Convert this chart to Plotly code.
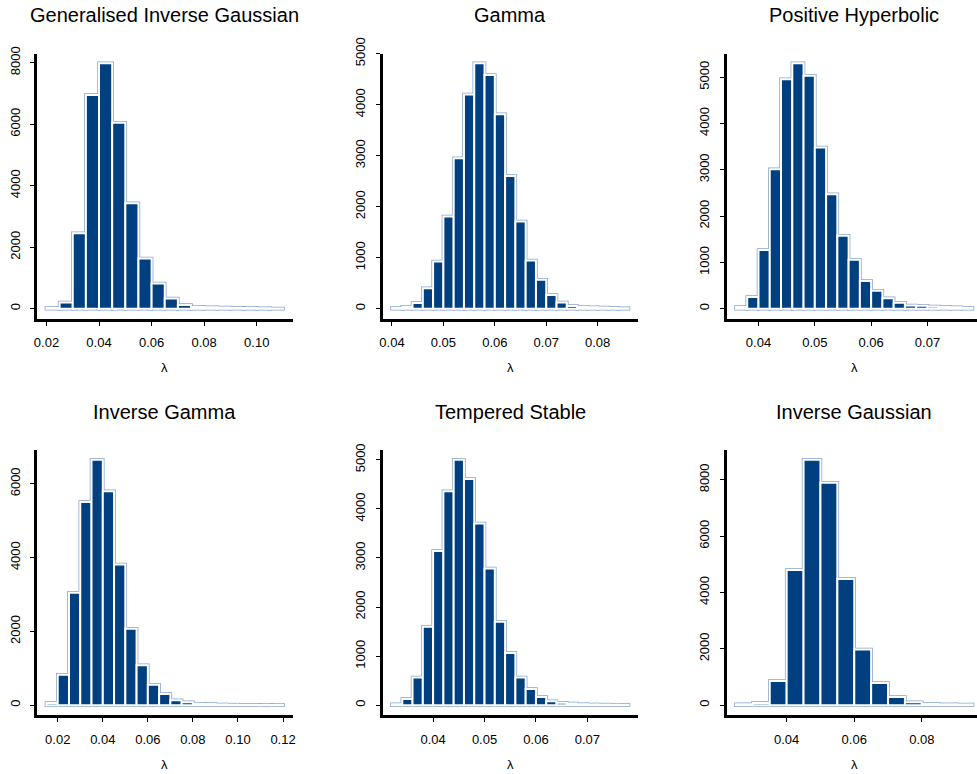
import plotly.graph_objects as go

# ---------------- data ----------------
titles = ["Generalised Inverse Gaussian", "Gamma", "Positive Hyperbolic",
          "Inverse Gamma", "Tempered Stable", "Inverse Gaussian"]

bin_start = [0.020, 0.040, 0.036, 0.015, 0.032, 0.025]
bin_width = [0.005, 0.002, 0.002, 0.005, 0.002, 0.005]

gig_counts = [20, 200, 2450, 6950, 7980, 6050, 3430, 1630, 820, 330, 120, 55,
              45, 35, 25, 20, 15, 10]
gamma_counts = [15, 40, 110, 400, 925, 1805, 2950, 4200, 4810, 4580, 3810, 2600,
                1710, 945, 565, 270, 120, 55, 40, 30, 25, 15, 10]
ph_counts = [35, 250, 1270, 3010, 4955, 5300, 5030, 3480, 2470, 1575, 1055, 600,
             390, 225, 130, 70, 65, 45, 35, 30, 20]
invgamma_counts = [60, 825, 3050, 5510, 6650, 5800, 3810, 2070, 1080, 555, 300,
                   135, 80, 40, 30, 20, 15, 10, 8, 5, 5]
ts_counts = [20, 125, 565, 1600, 3140, 4360, 5000, 4610, 3700, 2785, 1700, 1065,
             565, 330, 165, 80, 50, 35, 20, 15, 12, 10, 8]
ig_counts = [35, 80, 860, 4800, 8710, 7900, 4475, 1975, 785, 290, 105, 50, 30, 25]

all_counts = [gig_counts, gamma_counts, ph_counts, invgamma_counts, ts_counts, ig_counts]

x_tickvals = [[0.02, 0.04, 0.06, 0.08, 0.10],
              [0.04, 0.05, 0.06, 0.07, 0.08],
              [0.04, 0.05, 0.06, 0.07],
              [0.02, 0.04, 0.06, 0.08, 0.10, 0.12],
              [0.04, 0.05, 0.06, 0.07],
              [0.04, 0.06, 0.08]]
x_ticktext = [["0.02", "0.04", "0.06", "0.08", "0.10"],
              ["0.04", "0.05", "0.06", "0.07", "0.08"],
              ["0.04", "0.05", "0.06", "0.07"],
              ["0.02", "0.04", "0.06", "0.08", "0.10", "0.12"],
              ["0.04", "0.05", "0.06", "0.07"],
              ["0.04", "0.06", "0.08"]]
y_tickvals = [[0, 2000, 4000, 6000, 8000],
              [0, 1000, 2000, 3000, 4000, 5000],
              [0, 1000, 2000, 3000, 4000, 5000],
              [0, 2000, 4000, 6000],
              [0, 1000, 2000, 3000, 4000, 5000],
              [0, 2000, 4000, 6000, 8000]]
x_label = "λ"

# ---------------- style / layout ----------------
W, H = 977, 774
FILL = "#003F80"
OUTLINE = "#86A4CC"
col_left = [37, 382.5, 726.5]
row_top = [53.5, 450]
PW, PH = 255.5, 265

fig = go.Figure()
layout = dict(width=W, height=H, margin=dict(l=0, r=0, t=0, b=0, autoexpand=False),
              paper_bgcolor="white", plot_bgcolor="white",
              barmode="overlay", showlegend=False,
              font=dict(family="Liberation Sans, Arial, sans-serif", color="black"))
annotations = []

for i in range(6):
    r, c = divmod(i, 3)
    counts = all_counts[i]
    n = len(counts)
    x0 = bin_start[i]
    w = bin_width[i]
    centers = [x0 + w * (k + 0.5) for k in range(n)]
    x1 = x0 + w * n
    span = x1 - x0
    xl, xr = x0 - 0.04 * span, x1 + 0.04 * span
    M = max(counts)
    yl, yr = -0.04 * M, 1.04 * M

    left_px = col_left[c]
    right_px = left_px + PW
    if right_px > W:
        xr = xl + (W - left_px) / PW * (xr - xl)
        right_px = W
    top_px = row_top[r]
    bot_px = top_px + PH

    xa = "x" if i == 0 else f"x{i+1}"
    ya = "y" if i == 0 else f"y{i+1}"
    xkey = "xaxis" if i == 0 else f"xaxis{i+1}"
    ykey = "yaxis" if i == 0 else f"yaxis{i+1}"

    fig.add_trace(go.Bar(x=centers, y=counts, width=[w] * n, xaxis=xa, yaxis=ya,
                         marker=dict(color="white", line=dict(color=OUTLINE, width=3.5)),
                         hoverinfo="skip"))
    fig.add_trace(go.Bar(x=centers, y=counts, width=[w] * n, xaxis=xa, yaxis=ya,
                         marker=dict(color=FILL, line=dict(color="white", width=2))))

    layout[xkey] = dict(domain=[left_px / W, right_px / W], range=[xl, xr],
                        anchor=ya, showline=True, linewidth=3, linecolor="black",
                        showgrid=False, zeroline=False, ticks="outside", ticklen=4,
                        tickwidth=1, tickcolor="black", automargin=False,
                        ticklabelstandoff=6,
                        tickvals=x_tickvals[i], ticktext=x_ticktext[i],
                        tickfont=dict(size=13), fixedrange=True)
    layout[ykey] = dict(domain=[1 - bot_px / H, 1 - top_px / H], range=[yl, yr],
                        anchor=xa, showline=True, linewidth=3, linecolor="black",
                        showgrid=False, zeroline=False, ticks="outside", ticklen=4,
                        tickwidth=1, tickcolor="black", tickangle=-90, automargin=False,
                        ticklabelstandoff=5,
                        tickvals=y_tickvals[i], ticktext=[str(v) for v in y_tickvals[i]],
                        tickfont=dict(size=13), fixedrange=True)

    cx = (left_px + PW / 2) / W
    annotations.append(dict(text=titles[i], x=cx, y=1 - (top_px - 38.5) / H,
                            xref="paper", yref="paper", xanchor="center",
                            yanchor="middle", showarrow=False, font=dict(size=20)))
    annotations.append(dict(text=x_label, x=cx, y=1 - (bot_px + 49) / H,
                            xref="paper", yref="paper", xanchor="center",
                            yanchor="middle", showarrow=False, font=dict(size=13)))

layout["annotations"] = annotations
fig.update_layout(**layout)
fig.write_html("out.html", config={"displayModeBar": False},
               post_script="document.body.style.margin='0';document.body.style.overflow='hidden';")
